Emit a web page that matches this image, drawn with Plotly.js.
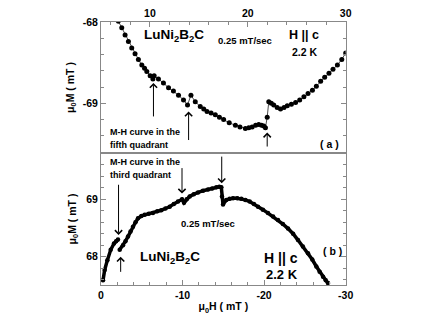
<!DOCTYPE html>
<html>
<head>
<meta charset="utf-8">
<script src="https://cdn.plot.ly/plotly-3.0.1.min.js"></script>
<style>
  html, body { margin: 0; padding: 0; background: #fff; }
  #chart { width: 431px; height: 320px; }
</style>
</head>
<body>
<div id="chart"></div>
<script>
// panel (a): fifth quadrant, field in mT, magnetisation in mT
var topH = [6.77, 7.12, 7.46, 7.8, 8.14, 8.48, 8.82, 9.17, 9.45, 9.68, 10.02, 10.3,
            10.43, 10.87, 11.38, 11.9, 12.4, 12.92, 13.43, 13.84,
            14.19, 14.63, 15.14, 15.5, 15.83, 16.25, 16.68, 17.1, 17.53, 18.1, 18.73, 19.2, 19.75,
            20.1, 20.44, 20.8, 21.12, 21.4, 21.63, 21.8, 21.98,
            22.14, 22.4, 22.65, 23.0, 23.34, 23.7, 24.03, 24.45, 24.88, 25.3, 25.73, 26.15,
            26.6, 27.0, 27.44, 27.85, 28.29, 28.7, 29.15, 29.6, 30.0];
var topM = [-67.99, -68.07, -68.16, -68.24, -68.32, -68.39, -68.46, -68.53, -68.57, -68.61, -68.66, -68.70,
            -68.66, -68.70, -68.75, -68.81, -68.85, -68.90, -68.96, -69.02,
            -68.90, -68.98, -69.04, -69.07, -69.10, -69.12, -69.14, -69.17, -69.20, -69.24, -69.27, -69.29, -69.31,
            -69.30, -69.29, -69.27, -69.26, -69.27, -69.28, -69.30, -69.17,
            -68.98, -69.00, -69.02, -69.05, -69.07, -69.05, -69.03, -69.01, -68.99, -68.96, -68.92, -68.88,
            -68.84, -68.79, -68.73, -68.68, -68.63, -68.58, -68.53, -68.46, -68.38];

// panel (b): third quadrant
var botH = [-0.25, -0.45, -0.78, -1.19, -1.59, -1.85, -2.08, null,
            -2.29, -2.7, -3.0, -3.31, -3.62, -3.92, -4.23, -4.54, -4.95, -5.35, -5.85, -6.37, -6.9, -7.39,
            -7.9, -8.42, -8.93, -9.44, -9.93, -10.18, -10.5, -10.87, -11.38, -11.89, -12.5, -13.12,
            -13.63, -14.14, -14.5, -14.75, -14.83, -14.96, -15.36, -15.77, -16.18, -16.7, -17.2,
            -17.7, -18.23, -18.75, -19.25, -19.85, -20.47, -21.1, -21.7, -22.3, -22.93, -23.55,
            -24.15, -24.75, -25.38, -25.9, -26.4, -26.8, -27.22, -27.55, -27.83];
var botM = [67.59, 67.77, 67.94, 68.12, 68.23, 68.27, 68.30, null,
            68.12, 68.20, 68.27, 68.35, 68.44, 68.52, 68.60, 68.67, 68.71, 68.73, 68.75, 68.76, 68.79, 68.81,
            68.84, 68.87, 68.92, 68.96, 69.00, 68.94, 69.00, 69.05, 69.09, 69.12, 69.15, 69.17,
            69.19, 69.21, 69.22, 69.21, 69.05, 68.91, 68.99, 69.01, 69.02, 69.02, 69.01,
            68.99, 68.96, 68.92, 68.87, 68.82, 68.76, 68.70, 68.64, 68.57, 68.49, 68.40,
            68.29, 68.18, 68.06, 67.95, 67.83, 67.74, 67.65, 67.59, 67.54];

var topTickVals = [10, 20, 30];
var topTickText = ['10', '20', '30'];
var botTickVals = [0, -10, -20, -30];
var botTickText = ['0', '-10', '-20', '-30'];
var topYTickVals = [-68, -69];
var topYTickText = ['-68', '-69'];
var botYTickVals = [68, 69];
var botYTickText = ['68', '69'];

var F = 'Liberation Sans, Arial, sans-serif';
var axCol = '#888';

var traces = [
  {x: topH, y: topM, xaxis: 'x', yaxis: 'y', type: 'scatter', mode: 'lines+markers',
   line: {color: '#000', width: 0.7}, marker: {color: '#000', size: 5}},
  {x: botH, y: botM, xaxis: 'x2', yaxis: 'y2', type: 'scatter', mode: 'lines+markers',
   connectgaps: false,
   line: {color: '#000', width: 3.5}, marker: {color: '#000', size: 4.5}}
];

function axis(extra) {
  var a = {
    showline: true, mirror: true, linecolor: axCol, linewidth: 1,
    ticks: 'inside', ticklen: 5, tickcolor: axCol, showgrid: false, zeroline: false,
    tickmode: 'array',
    tickfont: {family: F, size: 10.5, color: '#000', weight: 'bold'}
  };
  for (var k in extra) a[k] = extra[k];
  return a;
}

var xd = [101 / 431, 345.7 / 431];

var layout = {
  width: 431, height: 320,
  margin: {l: 0, r: 0, t: 0, b: 0},
  paper_bgcolor: '#fff', plot_bgcolor: '#fff',
  showlegend: false,
  xaxis: axis({domain: xd, anchor: 'y', side: 'top', range: [5, 30],
    tickvals: topTickVals, ticktext: topTickText,
    minor: {dtick: 2, tick0: 0, ticks: 'inside', ticklen: 3, tickcolor: axCol}}),
  yaxis: axis({domain: [1 - 153 / 320, 1 - 22 / 320], anchor: 'x', range: [-69.611, -68],
    tickvals: topYTickVals, ticktext: topYTickText, mirror: 'ticks',
    minor: {dtick: 0.2, tick0: 0, ticks: 'inside', ticklen: 3, tickcolor: axCol},
    title: {text: '\u03bc<sub>0</sub>M ( mT )', standoff: 6,
            font: {family: F, size: 10.5, color: '#000', weight: 'bold'}}}),
  xaxis2: axis({domain: xd, anchor: 'y2', range: [0, -30],
    tickvals: botTickVals, ticktext: botTickText,
    minor: {dtick: 2, tick0: 0, ticks: 'inside', ticklen: 3, tickcolor: axCol},
    title: {text: '\u03bc<sub>0</sub>H ( mT )', standoff: 3,
            font: {family: F, size: 10.5, color: '#000', weight: 'bold'}}}),
  yaxis2: axis({domain: [1 - 285 / 320, 1 - 153 / 320], anchor: 'x2', range: [67.507, 69.807],
    tickvals: botYTickVals, ticktext: botYTickText, mirror: 'ticks',
    minor: {dtick: 0.2, tick0: 0, ticks: 'inside', ticklen: 3, tickcolor: axCol},
    title: {text: '\u03bc<sub>0</sub>M ( mT )', standoff: 7,
            font: {family: F, size: 10.5, color: '#000', weight: 'bold'}}}),
  annotations: []
};

function label(px, py, txt, size, anchor) {
  layout.annotations.push({
    xref: 'paper', yref: 'paper', x: px / 431, y: 1 - py / 320,
    xanchor: anchor || 'center', yanchor: 'middle', showarrow: false, text: txt,
    font: {family: F, size: size, color: '#000', weight: 'bold'}
  });
}
function arrow(xr, yr, x, yHead, yTail) {
  layout.annotations.push({
    xref: xr, yref: yr, axref: xr, ayref: yr, x: x, y: yHead, ax: x, ay: yTail,
    text: '', showarrow: true, arrowhead: 4, arrowsize: 1.4, arrowwidth: 1, arrowcolor: '#000'
  });
}

// panel (a) texts
label(174, 35, 'LuNi<sub>2</sub>B<sub>2</sub>C', 13.5);
label(245, 40, '0.25 mT/sec', 9.5);
label(304, 35, 'H || c', 12.5);
label(305, 52, '2.2 K', 10.5);
label(329, 144, '( a )', 10.5);
label(108, 132, 'M-H curve in the', 9, 'left');
label(108, 145, 'fifth quadrant', 9, 'left');
// panel (b) texts
label(108, 162, 'M-H curve in the', 9, 'left');
label(108, 174.5, 'third quadrant', 9, 'left');
label(207.5, 223, '0.25 mT/sec', 9.5);
label(170, 257, 'LuNi<sub>2</sub>B<sub>2</sub>C', 13.5);
label(281, 258, 'H || c', 14);
label(282, 274, '2.2 K', 13);
label(332, 251, '( b )', 10.5);

// arrows marking the flux jumps
arrow('x', 'y', 10.36, -68.75, -69.18);
arrow('x', 'y', 13.95, -69.10, -69.47);
arrow('x', 'y', 21.98, -69.36, -69.55);
arrow('x2', 'y2', -2.15, 68.38, 69.28);
arrow('x2', 'y2', -2.41, 68.00, 67.71);
arrow('x2', 'y2', -9.93, 69.10, 69.57);
arrow('x2', 'y2', -14.8, 69.28, 69.77);

Plotly.newPlot('chart', traces, layout, {displayModeBar: false, staticPlot: true});
</script>
</body>
</html>
